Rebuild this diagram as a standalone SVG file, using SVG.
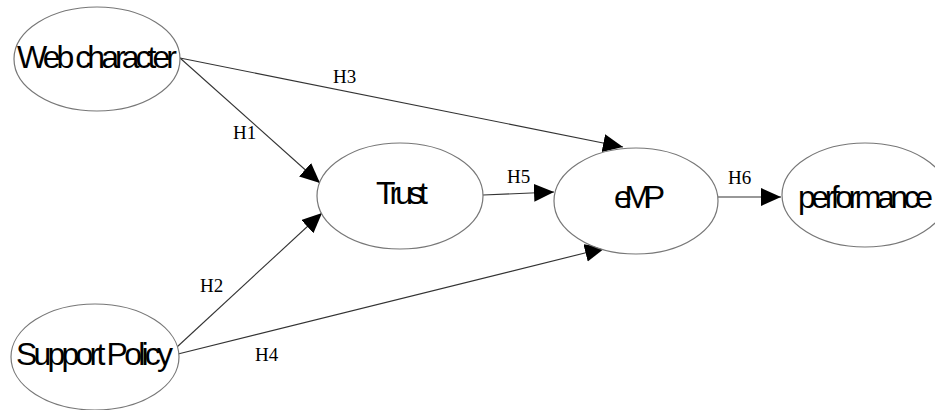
<svg xmlns="http://www.w3.org/2000/svg" width="935" height="410" viewBox="0 0 935 410">
<style>
.node ellipse{fill:#fff;stroke:#777;stroke-width:1.2}
.node text{font-family:"Liberation Sans",Arial,sans-serif;font-size:32px;fill:#000}
.edge line{stroke:#333;stroke-width:1.1}
.lbl{font-family:"Liberation Serif","Times New Roman",serif;font-size:19px;fill:#000}
</style>
<defs>
<marker id="ah" markerUnits="userSpaceOnUse" markerWidth="21" markerHeight="19" refX="20" refY="9" orient="auto" viewBox="0 0 21 19">
<path d="M0,0 L20,9 L0,18 z" fill="#000"/>
</marker>
</defs>
<rect width="935" height="410" fill="#fff"/>
<g id="connectors" class="edge">
<line x1="180" y1="58" x2="320" y2="183" marker-end="url(#ah)"/>
<line x1="180" y1="58" x2="623" y2="147" marker-end="url(#ah)"/>
<line x1="177" y1="347" x2="322" y2="213" marker-end="url(#ah)"/>
<line x1="178" y1="354" x2="605" y2="248" marker-end="url(#ah)"/>
<line x1="483" y1="195" x2="554" y2="192" marker-end="url(#ah)"/>
<line x1="718" y1="197" x2="781" y2="197" marker-end="url(#ah)"/>
<text class="lbl" x="233" y="139">H1</text>
<text class="lbl" x="333" y="83">H3</text>
<text class="lbl" x="200" y="292">H2</text>
<text class="lbl" x="255" y="361">H4</text>
<text class="lbl" x="507" y="183">H5</text>
<text class="lbl" x="728" y="184">H6</text>
</g>
<g id="web" class="node">
<ellipse cx="97" cy="59" rx="83" ry="52"/>
<text x="17" y="68" textLength="160" lengthAdjust="spacing">Web character</text>
</g>
<g id="trust" class="node">
<ellipse cx="400" cy="196" rx="83" ry="53"/>
<text x="376" y="204" textLength="52" lengthAdjust="spacing">Trust</text>
</g>
<g id="emp" class="node">
<ellipse cx="636" cy="201" rx="82" ry="53"/>
<text x="614" y="208" textLength="51" lengthAdjust="spacing">eMP</text>
</g>
<g id="performance" class="node">
<ellipse cx="865" cy="195" rx="83" ry="52"/>
<text x="798" y="208" textLength="135" lengthAdjust="spacing">performance</text>
</g>
<g id="support" class="node">
<ellipse cx="95" cy="357" rx="84" ry="53"/>
<text x="16" y="365" textLength="157" lengthAdjust="spacing">Support Policy</text>
</g>
</svg>
